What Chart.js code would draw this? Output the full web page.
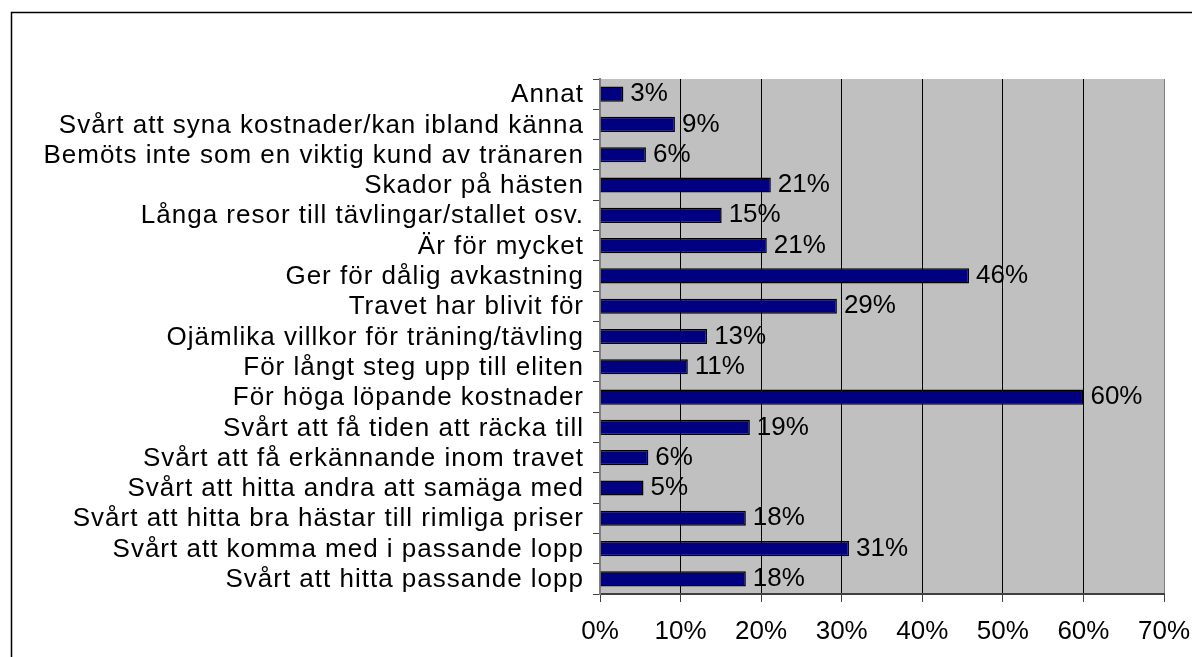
<!DOCTYPE html>
<html>
<head>
<meta charset="utf-8">
<script src="https://cdn.jsdelivr.net/npm/chart.js@4.4.0/dist/chart.umd.min.js"></script>
<style>
  html, body { margin: 0; padding: 0; background: #fff; }
  #wrap { width: 1192px; height: 657px; position: relative; }
</style>
</head>
<body>
<div id="wrap"><canvas id="chart" width="1192" height="657"></canvas></div>
<script>
const categories = [
    'Annat',
    'Svårt att syna kostnader/kan ibland känna',
    'Bemöts inte som en viktig kund av tränaren',
    'Skador på hästen',
    'Långa resor till tävlingar/stallet osv.',
    'Är för mycket',
    'Ger för dålig avkastning',
    'Travet har blivit för',
    'Ojämlika villkor för träning/tävling',
    'För långt steg upp till eliten',
    'För höga löpande kostnader',
    'Svårt att få tiden att räcka till',
    'Svårt att få erkännande inom travet',
    'Svårt att hitta andra att samäga med',
    'Svårt att hitta bra hästar till rimliga priser',
    'Svårt att komma med i passande lopp',
    'Svårt att hitta passande lopp'
];
const values = [2.9, 9.3, 5.7, 21.2, 15.1, 20.7, 45.8, 29.4, 13.3, 10.9, 60.0, 18.6, 6.0, 5.4, 18.1, 30.9, 18.1];
const xTicks = [0, 10, 20, 30, 40, 50, 60, 70];

const fontFamily = '"Liberation Sans", Arial, sans-serif';
const fontSize = 26;

// grå bakgrund i ritytan + ram runt hela diagrammet
const backdrop = {
    id: 'backdrop',
    beforeDraw(chart) {
        const { ctx, chartArea: a } = chart;
        ctx.save();
        ctx.fillStyle = '#c0c0c0';
        ctx.fillRect(a.left, a.top, a.right - a.left, a.bottom - a.top);
        ctx.strokeStyle = '#000';
        ctx.lineWidth = 1.5;
        ctx.strokeRect(11.5, 12.5, 1192, 700);
        ctx.restore();
    }
};

// kategorinamn till vänster (ritas själv för att få lite bredare spärrning)
const catLabels = {
    id: 'catLabels',
    afterDraw(chart) {
        const { ctx } = chart;
        const y = chart.scales.y;
        ctx.save();
        ctx.font = fontSize + 'px ' + fontFamily;
        ctx.letterSpacing = '1px';
        ctx.fillStyle = '#000';
        ctx.textAlign = 'right';
        ctx.textBaseline = 'middle';
        categories.forEach((c, i) => {
            ctx.fillText(c, y.right - 16, y.getPixelForValue(i) + 1);
        });
        ctx.restore();
    }
};

// procentetiketter efter varje stapel
const barLabels = {
    id: 'barLabels',
    afterDatasetsDraw(chart) {
        const { ctx } = chart;
        const meta = chart.getDatasetMeta(0);
        ctx.save();
        ctx.font = fontSize + 'px ' + fontFamily;
        ctx.fillStyle = '#000';
        ctx.textAlign = 'left';
        ctx.textBaseline = 'middle';
        meta.data.forEach((bar, i) => {
            ctx.fillText(Math.round(values[i]) + '%', bar.x + 7, bar.y);
        });
        ctx.restore();
    }
};

new Chart(document.getElementById('chart'), {
    type: 'bar',
    data: {
        labels: categories,
        datasets: [{
            data: values,
            backgroundColor: '#000080',
            borderColor: '#000',
            borderWidth: 1.5,
            barPercentage: 0.5,
            categoryPercentage: 1
        }]
    },
    options: {
        indexAxis: 'y',
        responsive: false,
        animation: false,
        layout: { padding: { top: 79, right: 28, left: 0, bottom: 0 } },
        plugins: {
            legend: { display: false },
            tooltip: { enabled: false }
        },
        scales: {
            x: {
                min: 0,
                max: 70,
                afterBuildTicks(scale) {
                    scale.ticks = xTicks.map(v => ({ value: v }));
                },
                afterFit(scale) {
                    scale.height = 63;
                    scale.paddingLeft = 0;
                    scale.paddingRight = 0;
                },
                ticks: {
                    color: '#000',
                    padding: 14,
                    maxRotation: 0,
                    autoSkip: false,
                    font: { family: fontFamily, size: fontSize },
                    callback: v => v + '%'
                },
                grid: {
                    color: ctx => (ctx.index === 0 || ctx.index === xTicks.length - 1) ? '#808080' : '#000',
                    lineWidth: 1,
                    tickLength: 8,
                    tickColor: '#404040'
                },
                border: { color: '#404040', width: 2 }
            },
            y: {
                afterFit(scale) { scale.width = 600; },
                ticks: { display: false },
                grid: {
                    offset: true,
                    drawOnChartArea: false,
                    tickLength: 7,
                    tickColor: '#404040'
                },
                border: { color: '#808080', width: 2 }
            }
        }
    },
    plugins: [backdrop, barLabels, catLabels]
});
</script>
</body>
</html>
